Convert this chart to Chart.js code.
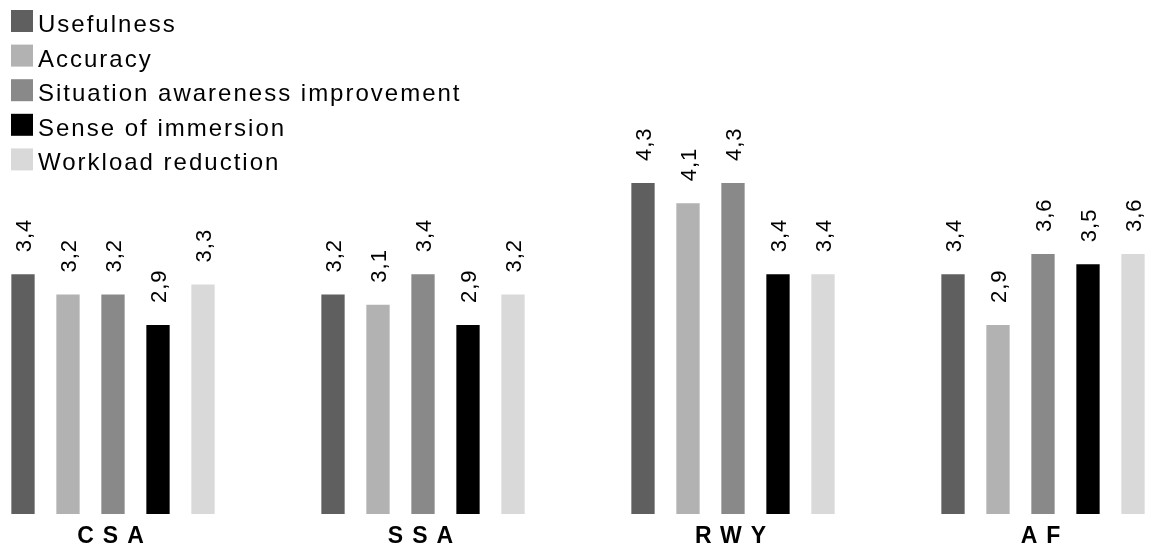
<!DOCTYPE html>
<html>
<head>
<meta charset="utf-8">
<script src="https://cdn.jsdelivr.net/npm/chart.js@4/dist/chart.umd.min.js"></script>
<style>
    html, body { margin: 0; padding: 0; background: #fff; overflow: hidden; }
    /* chart area is wider than the window: the outer groups are cut off like in the original */
    #wrap { position: absolute; left: -42px; top: 0; width: 1240px; height: 550px; }
</style>
</head>
<body>
<div id="wrap"><canvas id="ratings"></canvas></div>
<script>
// --------------------
// Data
// --------------------
const categories = ['CSA', 'SSA', 'RWY', 'AF'];

const seriesNames = ['Usefulness', 'Accuracy', 'Situation awareness improvement', 'Sense of immersion', 'Workload reduction'];
const seriesColors = ['#5f5f5f', '#b2b2b2', '#898989', '#000000', '#d9d9d9'];

const usefulness = [3.4, 3.2, 4.3, 3.4];
const accuracy = [3.2, 3.1, 4.1, 2.9];
const situationAwareness = [3.2, 3.4, 4.3, 3.6];
const immersion = [2.9, 2.9, 3.4, 3.5];
const workloadReduction = [3.3, 3.2, 3.4, 3.6];

const seriesValues = [usefulness, accuracy, situationAwareness, immersion, workloadReduction];

const SHIFT = 42; // canvas is moved left by this much

// legend drawn by hand (tight box/text gap, letter spaced)
const legendPlugin = {
    id: 'sideLegend',
    afterDraw(chart) {
        const ctx = chart.ctx;
        ctx.save();
        ctx.font = '24px "Liberation Sans", Arial, sans-serif';
        ctx.letterSpacing = '2px';
        ctx.textAlign = 'left';
        ctx.textBaseline = 'alphabetic';
        chart.data.datasets.forEach((ds, i) => {
            const top = 10 + i * 34.6;
            ctx.fillStyle = ds.backgroundColor;
            ctx.fillRect(SHIFT + 11, top, 22, 22);
            ctx.fillStyle = '#000';
            ctx.fillText(ds.label, SHIFT + 38, top + 22);
        });
        ctx.restore();
    }
};

// rotated value labels above bars
const valueLabels = {
    id: 'valueLabels',
    afterDatasetsDraw(chart) {
        const ctx = chart.ctx;
        ctx.save();
        ctx.font = '22px "Liberation Sans", Arial, sans-serif';
        ctx.letterSpacing = '1px';
        ctx.fillStyle = '#000';
        ctx.textAlign = 'left';
        ctx.textBaseline = 'alphabetic';
        chart.data.datasets.forEach((ds, di) => {
            chart.getDatasetMeta(di).data.forEach((bar, i) => {
                const txt = ds.data[i].toFixed(1).replace('.', ',');
                ctx.save();
                ctx.translate(bar.x, bar.y - 22);
                ctx.rotate(-Math.PI / 2);
                ctx.fillText(txt, 0, 8);
                ctx.restore();
            });
        });
        ctx.restore();
    }
};

// spaced bold category names under the groups
const categoryLabels = {
    id: 'categoryLabels',
    afterDraw(chart) {
        const ctx = chart.ctx;
        const x = chart.scales.x;
        ctx.save();
        ctx.font = 'bold 23px "Liberation Sans", Arial, sans-serif';
        ctx.letterSpacing = '9px';
        ctx.fillStyle = '#000';
        ctx.textAlign = 'center';
        ctx.textBaseline = 'alphabetic';
        chart.data.labels.forEach((lab, i) => {
            ctx.fillText(lab, x.getPixelForValue(i) + 2, 543);
        });
        ctx.restore();
    }
};

new Chart(document.getElementById('ratings'), {
    type: 'bar',
    data: {
        labels: categories,
        datasets: seriesNames.map((name, i) => ({
            label: name,
            data: seriesValues[i],
            backgroundColor: seriesColors[i],
            borderWidth: 0,
            categoryPercentage: 0.7258,
            barPercentage: 0.518
        }))
    },
    options: {
        responsive: true,
        maintainAspectRatio: false,
        animation: false,
        layout: { padding: { top: 0, left: 0, right: 0, bottom: 36 } },
        plugins: {
            legend: { display: false },
            tooltip: { enabled: false }
        },
        scales: {
            x: { display: false },
            y: { display: false, min: 1.036, max: 6.105 }
        }
    },
    plugins: [legendPlugin, valueLabels, categoryLabels]
});
</script>
</body>
</html>
